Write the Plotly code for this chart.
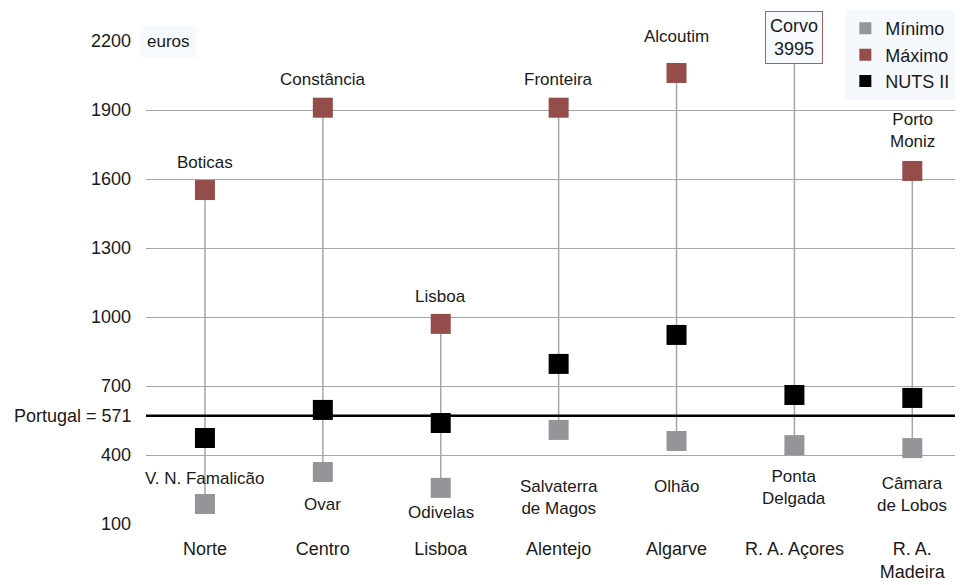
import plotly.graph_objects as go

regions = ["Norte", "Centro", "Lisboa", "Alentejo", "Algarve", "R. A. Açores", "R. A.<br>Madeira"]
minimo = [187, 326, 257, 509, 461, 443, 430]
maximo = [1552, 1910, 970, 1910, 2061, 3995, 1635]
nuts = [474, 596, 539, 796, 922, 661, 648]
portugal = 571
min_names = ["V. N. Famalicão", "Ovar", "Odivelas", "Salvaterra<br>de Magos", "Olhão", "Ponta<br>Delgada", "Câmara<br>de Lobos"]
max_names = ["Boticas", "Constância", "Lisboa", "Fronteira", "Alcoutim", "Corvo<br>3995", "Porto<br>Moniz"]
yticks = [100, 400, 700, 1000, 1300, 1600, 1900, 2200]

FONT = "Liberation Sans, Arial, sans-serif"
TXT = "#1a1a1a"
xs = list(range(len(regions)))

fig = go.Figure()

# vertical range lines
lx, ly = [], []
for i in xs:
    lx += [i, i, None]
    ly += [minimo[i], maximo[i], None]
fig.add_trace(go.Scatter(x=lx, y=ly, mode="lines", line=dict(color="#A6A6A6", width=1.5),
                         showlegend=False, hoverinfo="skip"))

msize = 20
fig.add_trace(go.Scatter(x=xs, y=minimo, mode="markers", name="Mínimo",
                         marker=dict(symbol="square", size=msize, color="#939598")))
fig.add_trace(go.Scatter(x=xs, y=maximo, mode="markers", name="Máximo",
                         marker=dict(symbol="square", size=msize, color="#944D4A")))
fig.add_trace(go.Scatter(x=xs, y=nuts, mode="markers", name="NUTS II",
                         marker=dict(symbol="square", size=msize, color="#000000")))

# Portugal line
fig.add_shape(type="line", xref="paper", x0=0, x1=1, yref="y", y0=portugal, y1=portugal,
              line=dict(color="#000000", width=2.5))

annots = []
annots.append(dict(xref="paper", x=0, yref="y", y=portugal, text="Portugal = 571",
                   showarrow=False, xanchor="right", xshift=-12,
                   font=dict(family=FONT, size=18, color=TXT)))
annots.append(dict(xref="paper", x=0, yref="y", y=2200, text="euros",
                   showarrow=False, xanchor="left", xshift=-6,
                   bgcolor="#F7FAFD", borderpad=6,
                   font=dict(family=FONT, size=17, color=TXT)))

max_shift = [28, 28, 27, 28, 36, None, 40]
min_shift = [25, -32, -25, -68, -46, -42, -46]
for i in xs:
    if max_shift[i] is not None:
        annots.append(dict(x=i, y=maximo[i], text=max_names[i], showarrow=False,
                           yshift=max_shift[i], font=dict(family=FONT, size=17, color=TXT)))
    annots.append(dict(x=i, y=minimo[i], text=min_names[i], showarrow=False,
                       yshift=min_shift[i], font=dict(family=FONT, size=17, color=TXT)))

annots.append(dict(x=5, yref="paper", y=1, yanchor="middle", yshift=4, text=max_names[5],
                   showarrow=False,
                   bgcolor="#F7FAFD", bordercolor="#B0605C", borderwidth=1, borderpad=4,
                   font=dict(family=FONT, size=18, color=TXT)))

fig.update_layout(
    width=955, height=577,
    margin=dict(l=138, r=0, t=33, b=61),
    paper_bgcolor="white", plot_bgcolor="white",
    font=dict(family=FONT, size=17, color=TXT),
    annotations=annots,
    legend=dict(x=0.856, xanchor="left", y=1.064, yanchor="top", bgcolor="#F5F9FD",
                font=dict(family=FONT, size=18, color=TXT), itemsizing="constant",
                itemwidth=30, tracegroupgap=0),
    xaxis=dict(tickmode="array", tickvals=xs, ticktext=regions, range=[-0.5, 6.43],
               showgrid=False, zeroline=False, showline=False, ticks="",
               ticklabelstandoff=12, tickfont=dict(family=FONT, size=18, color=TXT)),
    yaxis=dict(tickmode="array", tickvals=yticks, range=[100, 2200],
               showgrid=True, gridcolor="#A6A6A6", gridwidth=1, zeroline=False,
               showline=False, ticks="", ticklabelstandoff=14,
               tickfont=dict(family=FONT, size=18, color=TXT)),
)

fig.write_html("out.html")
